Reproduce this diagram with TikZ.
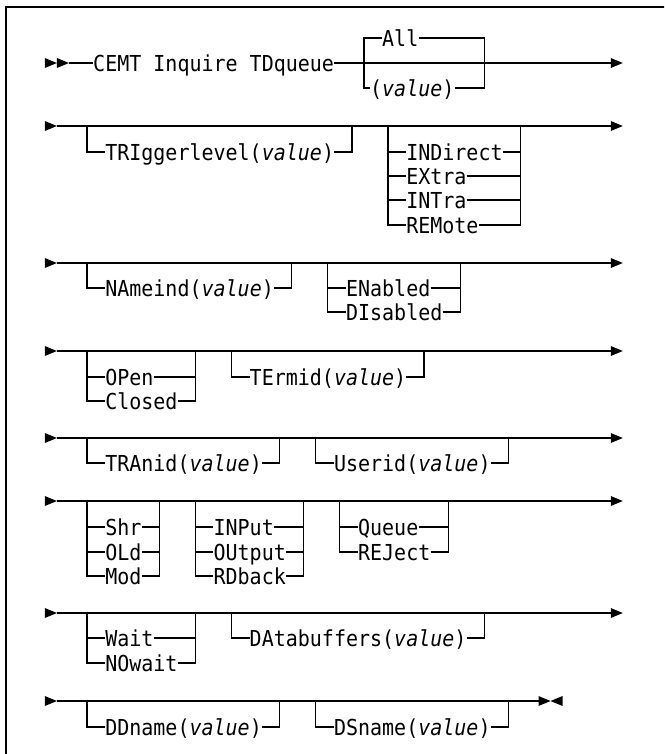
\documentclass[tikz,border=0pt]{standalone}
\usepackage{fontspec}
\newfontfamily\dm{DejaVu Sans Mono}[FakeStretch=0.9091]
\newcommand\valit{\textit{value}}
\newcommand\colx[1]{87+(#1)*12.04}
\newcommand\rtri[2]{\fill ({#1},{#2-5}) -- ({#1+12.04},{#2}) -- ({#1},{#2+5}) -- cycle;}
\newcommand\ltri[2]{\fill ({#1+12.04},{#2-5}) -- ({#1},{#2}) -- ({#1+12.04},{#2+5}) -- cycle;}
% option that is not the last of its group: #1 node, #2 left coord, #3 right coord
\newcommand\optmid[3]{\draw[rail] (#1.west -| #2) -- (#1.west) (#1.east) -- (#1.east -| #3);}
% last (lowest) option of a group
\newcommand\optlast[3]{\draw[rail] (#2) |- (#1.west) (#1.east) -| (#3);}
% a main line with start arrow and end arrow: #1 name, #2 y
\newcommand\mainrow[2]{%
  \coordinate (#1a) at ({\colx{-2.5}},#2);
  \coordinate (#1b) at ({\colx{43.5}},#2);
  \rtri{\colx{-3.5}}{#2}
  \draw[rail] (#1a) -- (#1b);
  \rtri{\colx{43.5}}{#2}}
\begin{document}
\begin{tikzpicture}[x=1pt,y=-1pt,
  rail/.style={line width=1.3pt},
  lbl/.style={font=\dm\fontsize{22pt}{26pt}\selectfont, inner sep=0pt,
    text height=16.04pt, text depth=0pt, anchor=west}]
\useasboundingbox (0,0) rectangle (664,754);
\clip (0,0) rectangle (664,754);
\draw[line width=2pt] (6,7) rectangle (720,800);

% ---------- row 1
\node[lbl] (cemt) at ({\colx{0.5}},63) {CEMT Inquire TDqueue};
\rtri{\colx{-3.5}}{63}
\rtri{\colx{-2.5}}{63}
\coordinate (m1a) at ({\colx{-1.5}},63);
\coordinate (m1b) at ({\colx{43.5}},63);
\draw[rail] (m1a) -- (cemt.west) (cemt.east) -- (m1b);
\rtri{\colx{43.5}}{63}
\coordinate (L11) at ({\colx{23}},63);
\coordinate (R11) at ({\colx{33}},63);
\node[lbl] (all) at ({\colx{24.5}},38) {All};
\node[lbl] (val1) at ({\colx{23.5}},88) {(\valit)};
\draw[rail] (all.west) -| (val1.west -| L11) -- (val1.west);
\draw[rail] (all.east) -| (val1.east -| R11) -- (val1.east);

% ---------- row 2
\mainrow{m2}{126}
\coordinate (L21) at ({\colx{0}},126);
\coordinate (R21) at ({\colx{22}},126);
\node[lbl] (trig) at ({\colx{1.5}},152) {TRIggerlevel(\valit)};
\optlast{trig}{L21}{R21}
\coordinate (L22) at ({\colx{25}},126);
\coordinate (R22) at ({\colx{36}},126);
\node[lbl] (ind) at ({\colx{26.5}},152) {INDirect};
\node[lbl] (ext) at ({\colx{26.5}},176) {EXtra};
\node[lbl] (intr) at ({\colx{26.5}},200) {INTra};
\node[lbl] (rem) at ({\colx{26.5}},225) {REMote};
\optmid{ind}{L22}{R22}
\optmid{ext}{L22}{R22}
\optmid{intr}{L22}{R22}
\optlast{rem}{L22}{R22}

% ---------- row 3
\mainrow{m3}{263}
\coordinate (L31) at ({\colx{0}},263);
\coordinate (R31) at ({\colx{17}},263);
\node[lbl] (name) at ({\colx{1.5}},288) {NAmeind(\valit)};
\optlast{name}{L31}{R31}
\coordinate (L32) at ({\colx{20}},263);
\coordinate (R32) at ({\colx{31}},263);
\node[lbl] (ena) at ({\colx{21.5}},288) {ENabled};
\node[lbl] (dis) at ({\colx{21.5}},312) {DIsabled};
\optmid{ena}{L32}{R32}
\optlast{dis}{L32}{R32}

% ---------- row 4
\mainrow{m4}{351}
\coordinate (L41) at ({\colx{0}},351);
\coordinate (R41) at ({\colx{9}},351);
\node[lbl] (open) at ({\colx{1.5}},377) {OPen};
\node[lbl] (clos) at ({\colx{1.5}},401) {Closed};
\optmid{open}{L41}{R41}
\optlast{clos}{L41}{R41}
\coordinate (L42) at ({\colx{12}},351);
\coordinate (R42) at ({\colx{28}},351);
\node[lbl] (term) at ({\colx{13.5}},377) {TErmid(\valit)};
\optlast{term}{L42}{R42}

% ---------- row 5
\mainrow{m5}{438}
\coordinate (L51) at ({\colx{0}},438);
\coordinate (R51) at ({\colx{16}},438);
\node[lbl] (tran) at ({\colx{1.5}},463) {TRAnid(\valit)};
\optlast{tran}{L51}{R51}
\coordinate (L52) at ({\colx{19}},438);
\coordinate (R52) at ({\colx{35}},438);
\node[lbl] (user) at ({\colx{20.5}},463) {Userid(\valit)};
\optlast{user}{L52}{R52}

% ---------- row 6
\mainrow{m6}{501}
\coordinate (L61) at ({\colx{0}},501);
\coordinate (R61) at ({\colx{6}},501);
\node[lbl] (shr) at ({\colx{1.5}},527) {Shr};
\node[lbl] (old) at ({\colx{1.5}},552) {OLd};
\node[lbl] (mod) at ({\colx{1.5}},576) {Mod};
\optmid{shr}{L61}{R61}
\optmid{old}{L61}{R61}
\optlast{mod}{L61}{R61}
\coordinate (L62) at ({\colx{9}},501);
\coordinate (R62) at ({\colx{18}},501);
\node[lbl] (inp) at ({\colx{10.5}},527) {INPut};
\node[lbl] (outp) at ({\colx{10.5}},552) {OUtput};
\node[lbl] (rdb) at ({\colx{10.5}},576) {RDback};
\optmid{inp}{L62}{R62}
\optmid{outp}{L62}{R62}
\optlast{rdb}{L62}{R62}
\coordinate (L63) at ({\colx{21}},501);
\coordinate (R63) at ({\colx{30}},501);
\node[lbl] (que) at ({\colx{22.5}},527) {Queue};
\node[lbl] (rej) at ({\colx{22.5}},552) {REJect};
\optmid{que}{L63}{R63}
\optlast{rej}{L63}{R63}

% ---------- row 7
\mainrow{m7}{613}
\coordinate (L71) at ({\colx{0}},613);
\coordinate (R71) at ({\colx{9}},613);
\node[lbl] (wait) at ({\colx{1.5}},638) {Wait};
\node[lbl] (nowt) at ({\colx{1.5}},663) {NOwait};
\optmid{wait}{L71}{R71}
\optlast{nowt}{L71}{R71}
\coordinate (L72) at ({\colx{12}},613);
\coordinate (R72) at ({\colx{33}},613);
\node[lbl] (data) at ({\colx{13.5}},638) {DAtabuffers(\valit)};
\optlast{data}{L72}{R72}

% ---------- row 8
\coordinate (m8a) at ({\colx{-2.5}},701);
\coordinate (m8b) at ({\colx{37.5}},701);
\rtri{\colx{-3.5}}{701}
\draw[rail] (m8a) -- (m8b);
\rtri{\colx{37.5}}{701}
\ltri{\colx{38.5}}{701}
\coordinate (L81) at ({\colx{0}},701);
\coordinate (R81) at ({\colx{16}},701);
\node[lbl] (ddn) at ({\colx{1.5}},727) {DDname(\valit)};
\optlast{ddn}{L81}{R81}
\coordinate (L82) at ({\colx{19}},701);
\coordinate (R82) at ({\colx{35}},701);
\node[lbl] (dsn) at ({\colx{20.5}},727) {DSname(\valit)};
\optlast{dsn}{L82}{R82}
\end{tikzpicture}
\end{document}
